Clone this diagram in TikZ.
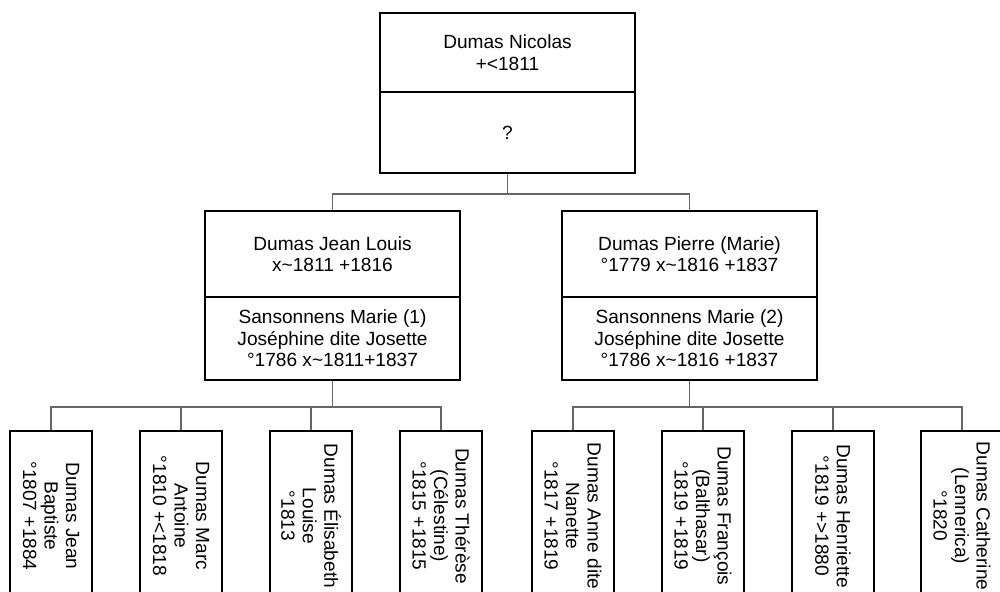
\documentclass[tikz,border=0pt]{standalone}
\usepackage{fontspec}
\setmainfont{Liberation Sans}

\begin{document}
\begin{tikzpicture}[x=0.5pt,y=-0.5pt,
  person/.style={draw,line width=1pt,inner sep=0pt,align=center,
    minimum width=127.5pt,font=\fontsize{9.55}{10.75}\selectfont},
  child/.style={draw,line width=1pt,inner sep=0pt,align=center,rotate=-90,
    minimum width=85pt,minimum height=41pt,font=\fontsize{9.55}{10.75}\selectfont},
  link/.style={draw=black!60,line width=0.6pt}]
  \useasboundingbox (0,0) rectangle (1000,591);
  \clip (0,0) rectangle (1000,591);
  % ancestors
  \node[person,minimum height=39.5pt] (nicolas) at (507.5,52.5) {Dumas Nicolas\\+<1811};
  \node[person,minimum height=40.5pt] (nicolasw) at (507.5,132.5) {?};
  \node[person,minimum height=43pt] (jeanlouis) at (332.5,254) {Dumas Jean Louis\\x\textasciitilde 1811 +1816};
  \node[person,minimum height=41.5pt] (josette1) at (332.5,338.5) {Sansonnens Marie (1)\\Joséphine dite Josette\\°1786 x\textasciitilde 1811+1837};
  \node[person,minimum height=43pt] (pierre) at (689.5,254) {Dumas Pierre (Marie)\\°1779 x\textasciitilde 1816 +1837};
  \node[person,minimum height=41.5pt] (josette2) at (689.5,338.5) {Sansonnens Marie (2)\\Joséphine dite Josette\\°1786 x\textasciitilde 1816 +1837};
  % children
  \node[child] (jeanbaptiste) at (51,516) {Dumas Jean\\Baptiste\\°1807 +1884};
  \node[child] (marcantoine) at (181,516) {Dumas Marc\\Antoine\\°1810 +<1818};
  \node[child] (elisabeth) at (311,516) {Dumas Élisabeth\\Louise\\°1813};
  \node[child] (therese) at (441,516) {Dumas Thérèse\\(Célestine)\\°1815 +1815};
  \node[child] (anne) at (573,516) {Dumas Anne dite\\Nanette\\°1817 +1819};
  \node[child] (francois) at (703,516) {Dumas François\\(Balthasar)\\°1819 +1819};
  \node[child] (henriette) at (833,516) {Dumas Henriette\\°1819 +>1880};
  \node[child] (catherine) at (962,516) {Dumas Catherine\\(Lennerica)\\°1820};
  % connectors
  \coordinate (bustop) at (0,194);
  \coordinate (busbot) at (0,407);
  \foreach \c in {jeanlouis,pierre}
    \draw[link] (nicolasw.south) -- (nicolasw.south |- bustop) -| (\c);
  \foreach \c in {jeanbaptiste,marcantoine,elisabeth,therese}
    \draw[link] (josette1.south) -- (josette1.south |- busbot) -| (\c);
  \foreach \c in {anne,francois,henriette,catherine}
    \draw[link] (josette2.south) -- (josette2.south |- busbot) -| (\c);
\end{tikzpicture}
\end{document}
